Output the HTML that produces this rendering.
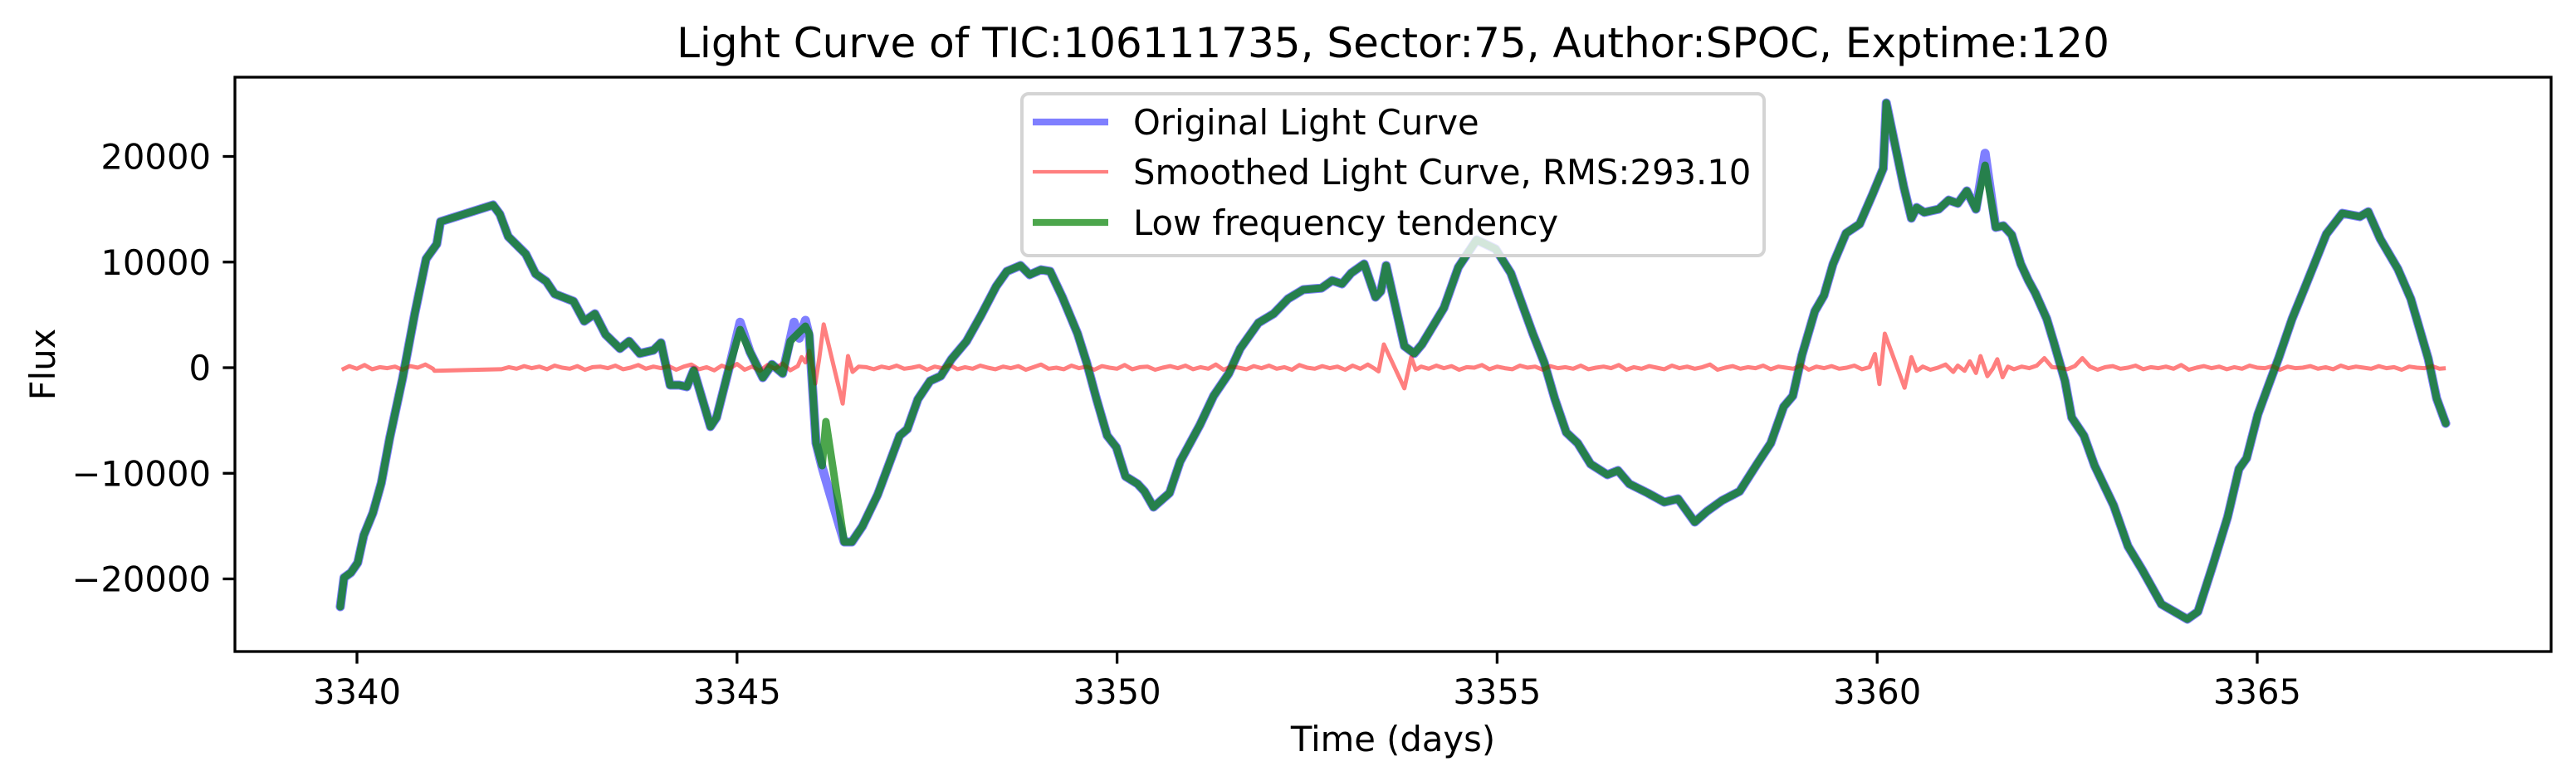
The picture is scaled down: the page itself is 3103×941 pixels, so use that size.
<!DOCTYPE html>
<html><head><meta charset="utf-8">
<style>
html,body{margin:0;padding:0;background:#fff;}
svg{display:block;font-family:"DejaVu Sans","Liberation Sans",sans-serif;}
</style></head>
<body>
<svg id="chart" width="3103" height="941" viewBox="0 0 3103 941" xmlns="http://www.w3.org/2000/svg">
<rect width="3103" height="941" fill="#fff"/>
<text x="1678" y="69" font-size="50" text-anchor="middle">Light Curve of TIC:106111735, Sector:75, Author:SPOC, Exptime:120</text>
<g id="plot"></g>
<g id="axes"></g>
<text x="1678" y="905" font-size="41.7" text-anchor="middle">Time (days)</text>
<text transform="translate(66,439) rotate(-90)" font-size="41.7" text-anchor="middle">Flux</text>
<g id="legend">
<rect x="1231" y="113" width="894" height="195" rx="8" fill="#fff" fill-opacity="0.8" stroke="#d4d4d4" stroke-width="4"/>
<line x1="1244" y1="147" x2="1335" y2="147" stroke="rgba(0,0,255,0.5)" stroke-width="8.3"/>
<text x="1365" y="162" font-size="41.7">Original Light Curve</text>
<line x1="1244" y1="207" x2="1335" y2="207" stroke="rgba(255,0,0,0.5)" stroke-width="4.2"/>
<text x="1365" y="222" font-size="41.7">Smoothed Light Curve, RMS:293.10</text>
<line x1="1244" y1="268" x2="1335" y2="268" stroke="rgba(0,128,0,0.7)" stroke-width="8.3"/>
<text x="1365" y="283" font-size="41.7">Low frequency tendency</text>
</g>
</svg>
<script>
const xTicks = [3340, 3345, 3350, 3355, 3360, 3365];
const yTicks = [-20000, -10000, 0, 10000, 20000];
const yTickLabels = ["\u221220000", "\u221210000", "0", "10000", "20000"];

const greenT = [3339.78,3339.83,3339.92,3340.01,3340.09,3340.21,3340.32,3340.43,3340.60,3340.76,3340.91,3341.05,3341.10,3341.79,3341.88,3341.99,3342.22,3342.35,3342.49,3342.60,3342.85,3342.99,3343.13,3343.27,3343.46,3343.58,3343.72,3343.90,3344.00,3344.12,3344.24,3344.34,3344.43,3344.53,3344.65,3344.73,3344.90,3345.04,3345.17,3345.34,3345.46,3345.60,3345.70,3345.90,3345.95,3346.04,3346.12,3346.17,3346.41,3346.51,3346.65,3346.85,3347.14,3347.24,3347.38,3347.54,3347.68,3347.82,3348.02,3348.21,3348.41,3348.55,3348.73,3348.85,3349.00,3349.12,3349.28,3349.48,3349.60,3349.73,3349.87,3349.99,3350.11,3350.27,3350.36,3350.48,3350.59,3350.69,3350.83,3351.09,3351.27,3351.47,3351.62,3351.86,3352.06,3352.25,3352.45,3352.69,3352.83,3352.96,3353.08,3353.25,3353.40,3353.47,3353.54,3353.78,3353.91,3354.01,3354.30,3354.49,3354.73,3354.98,3355.18,3355.47,3355.62,3355.76,3355.91,3356.06,3356.23,3356.45,3356.59,3356.74,3356.98,3357.20,3357.38,3357.60,3357.76,3357.96,3358.19,3358.42,3358.60,3358.77,3358.89,3359.01,3359.18,3359.30,3359.42,3359.59,3359.77,3359.94,3360.08,3360.12,3360.35,3360.45,3360.52,3360.62,3360.81,3360.94,3361.06,3361.18,3361.30,3361.42,3361.56,3361.66,3361.77,3361.89,3361.99,3362.08,3362.23,3362.32,3362.47,3362.56,3362.72,3362.86,3363.11,3363.30,3363.49,3363.74,3364.08,3364.22,3364.42,3364.61,3364.76,3364.86,3365.01,3365.15,3365.28,3365.46,3365.62,3365.91,3366.12,3366.35,3366.46,3366.62,3366.85,3367.02,3367.25,3367.36,3367.48];
const greenV = [-22630,-19880,-19400,-18470,-15870,-13750,-10920,-6680,-1020,5110,10300,11700,13830,15400,14540,12420,10770,8880,8170,6990,6290,4400,5110,3140,1810,2510,1340,1650,2360,-1650,-1650,-1810,-240,-2670,-5580,-4720,80,3610,1490,-940,310,-550,2510,3930,3220,-7150,-9270,-5110,-16500,-16500,-15010,-12020,-6440,-5820,-2990,-1260,-790,790,2510,4950,7700,9120,9670,8800,9270,9120,6680,3220,470,-2990,-6440,-7540,-10290,-11000,-11710,-13200,-12500,-11870,-8880,-5420,-2670,-550,1810,4240,5110,6520,7390,7540,8250,7940,8960,9820,6680,7230,9670,2040,1340,2200,5660,9510,12100,11240,8960,3220,470,-2990,-6130,-7150,-9120,-10140,-9740,-11000,-11870,-12730,-12420,-14620,-13600,-12570,-11710,-9120,-7150,-3690,-2670,1180,5340,6840,9820,12730,13600,16420,18860,25070,17130,14150,15170,14700,15010,15870,15560,16740,15010,19170,13280,13440,12570,9820,8250,7070,4640,2510,-1260,-4720,-6440,-9270,-13040,-16900,-19170,-22400,-23810,-23100,-18620,-14150,-9590,-8570,-4400,-1650,860,4640,7470,12650,14620,14300,14770,12180,9350,6520,860,-2910,-5270];

const blueT = [3339.78,3339.83,3339.92,3340.01,3340.09,3340.21,3340.32,3340.43,3340.60,3340.76,3340.91,3341.05,3341.10,3341.79,3341.88,3341.99,3342.22,3342.35,3342.49,3342.60,3342.85,3342.99,3343.13,3343.27,3343.46,3343.58,3343.72,3343.90,3344.00,3344.12,3344.24,3344.34,3344.43,3344.53,3344.65,3344.73,3344.90,3345.04,3345.17,3345.34,3345.46,3345.60,3345.75,3345.82,3345.90,3345.95,3346.04,3346.12,3346.41,3346.51,3346.65,3346.85,3347.14,3347.24,3347.38,3347.54,3347.68,3347.82,3348.02,3348.21,3348.41,3348.55,3348.73,3348.85,3349.00,3349.12,3349.28,3349.48,3349.60,3349.73,3349.87,3349.99,3350.11,3350.27,3350.36,3350.48,3350.59,3350.69,3350.83,3351.09,3351.27,3351.47,3351.62,3351.86,3352.06,3352.25,3352.45,3352.69,3352.83,3352.96,3353.08,3353.25,3353.40,3353.47,3353.54,3353.78,3353.91,3354.01,3354.30,3354.49,3354.73,3354.98,3355.18,3355.47,3355.62,3355.76,3355.91,3356.06,3356.23,3356.45,3356.59,3356.74,3356.98,3357.20,3357.38,3357.60,3357.76,3357.96,3358.19,3358.42,3358.60,3358.77,3358.89,3359.01,3359.18,3359.30,3359.42,3359.59,3359.77,3359.94,3360.08,3360.12,3360.35,3360.45,3360.52,3360.62,3360.81,3360.94,3361.06,3361.18,3361.30,3361.42,3361.56,3361.66,3361.77,3361.89,3361.99,3362.08,3362.23,3362.32,3362.47,3362.56,3362.72,3362.86,3363.11,3363.30,3363.49,3363.74,3364.08,3364.22,3364.42,3364.61,3364.76,3364.86,3365.01,3365.15,3365.28,3365.46,3365.62,3365.91,3366.12,3366.35,3366.46,3366.62,3366.85,3367.02,3367.25,3367.36,3367.48];
const blueV = [-22630,-19880,-19400,-18470,-15870,-13750,-10920,-6680,-1020,5110,10300,11700,13830,15400,14540,12420,10770,8880,8170,6990,6290,4400,5110,3140,1810,2510,1340,1650,2360,-1650,-1650,-1810,-240,-2670,-5580,-4720,80,4300,1490,-940,310,-550,4300,2800,4480,3000,-7150,-9430,-16500,-16500,-15010,-12020,-6440,-5820,-2990,-1260,-790,790,2510,4950,7700,9120,9670,8800,9270,9120,6680,3220,470,-2990,-6440,-7540,-10290,-11000,-11710,-13200,-12500,-11870,-8880,-5420,-2670,-550,1810,4240,5110,6520,7390,7540,8250,7940,8960,9820,6680,7230,9670,2040,1340,2200,5660,9510,12100,11240,8960,3220,470,-2990,-6130,-7150,-9120,-10140,-9740,-11000,-11870,-12730,-12420,-14620,-13600,-12570,-11710,-9120,-7150,-3690,-2670,1180,5340,6840,9820,12730,13600,16420,18860,25070,17130,14150,15170,14700,15010,15870,15560,16740,15010,20300,13280,13440,12570,9820,8250,7070,4640,2510,-1260,-4720,-6440,-9270,-13040,-16900,-19170,-22400,-23810,-23100,-18620,-14150,-9590,-8570,-4400,-1650,860,4640,7470,12650,14620,14300,14770,12180,9350,6520,860,-2910,-5270];

const redT = [3339.8,3339.9,3340.0,3340.1,3340.2,3340.3,3340.4,3340.5,3340.6,3340.7,3340.8,3340.9,3341.0,3341.02,3341.88,
3341.9,3342.0,3342.1,3342.2,3342.3,3342.4,3342.5,3342.6,3342.7,3342.8,3342.9,3343.0,3343.1,3343.2,3343.3,3343.4,3343.5,3343.6,3343.7,3343.8,3343.9,3344.0,3344.1,3344.2,3344.3,3344.4,3344.5,3344.6,3344.7,3344.8,3344.9,3345.0,3345.1,3345.2,3345.3,3345.4,3345.5,3345.6,3345.7,3345.8,
3345.85,3345.9,3345.95,3346.0,3346.03,3346.08,3346.14,3346.39,3346.46,3346.52,3346.6,
3346.7,3346.8,3346.9,3347.0,3347.1,3347.2,3347.3,3347.4,3347.5,3347.6,3347.7,3347.8,3347.9,3348.0,3348.1,3348.2,3348.3,3348.4,3348.5,3348.6,3348.7,3348.8,3348.9,3349.0,3349.1,3349.2,3349.3,3349.4,3349.5,3349.6,3349.7,3349.8,3349.9,3350.0,3350.1,3350.2,3350.3,3350.4,3350.5,3350.6,3350.7,3350.8,3350.9,3351.0,3351.1,3351.2,3351.3,3351.4,3351.5,3351.6,3351.7,3351.8,3351.9,3352.0,3352.1,3352.2,3352.3,3352.4,3352.5,3352.6,3352.7,3352.8,3352.9,3353.0,3353.1,3353.2,3353.3,3353.4,
3353.44,3353.51,3353.78,3353.87,3353.93,
3354.0,3354.1,3354.2,3354.3,3354.4,3354.5,3354.6,3354.7,3354.8,3354.9,3355.0,3355.1,3355.2,3355.3,3355.4,3355.5,3355.6,3355.7,3355.8,3355.9,3356.0,3356.1,3356.2,3356.3,3356.4,3356.5,3356.6,3356.7,3356.8,3356.9,3357.0,3357.1,3357.2,3357.3,3357.4,3357.5,3357.6,3357.7,3357.8,3357.9,3358.0,3358.1,3358.2,3358.3,3358.4,3358.5,3358.6,3358.7,3358.8,3358.9,3359.0,3359.1,3359.2,3359.3,3359.4,3359.5,3359.6,3359.7,3359.8,3359.9,
3359.97,3360.03,3360.10,3360.36,3360.45,3360.52,3360.6,3360.7,3360.8,3360.9,3361.0,3361.06,3361.15,3361.22,3361.3,3361.36,3361.45,3361.52,3361.58,3361.65,3361.72,
3361.8,3361.9,3362.0,3362.1,3362.2,3362.3,3362.4,3362.5,3362.6,3362.7,3362.8,3362.9,3363.0,3363.1,3363.2,3363.3,3363.4,3363.5,3363.6,3363.7,3363.8,3363.9,3364.0,3364.1,3364.2,3364.3,3364.4,3364.5,3364.6,3364.7,3364.8,3364.9,3365.0,3365.1,3365.2,3365.3,3365.4,3365.5,3365.6,3365.7,3365.8,3365.9,3366.0,3366.1,3366.2,3366.3,3366.4,3366.5,3366.6,3366.7,3366.8,3366.9,3367.0,3367.1,3367.2,3367.3,3367.4,3367.48];
const redV = [-200,150,-100,250,-150,50,-50,100,-200,150,0,300,-100,-300,-150,
-150,50,-100,150,-50,100,-150,200,0,-100,150,-200,50,100,-50,200,-150,0,250,-100,100,-50,150,-200,100,300,-150,50,-250,200,-100,350,-200,100,-300,250,-100,400,-250,150,
1000,500,1600,-200,-1500,800,4100,-3400,1100,-400,100,
50,-150,100,-50,200,-100,0,150,-200,100,-50,250,-150,50,-100,200,0,-150,100,-50,150,-200,50,300,-100,0,-150,200,-50,100,-200,150,0,-100,250,-150,50,100,-200,0,150,-50,200,-150,50,-100,300,-200,100,0,-150,150,-50,200,-100,50,-200,250,0,-100,150,-50,100,-200,200,-100,300,-150,
-350,2200,-1960,1000,-200,
100,-100,200,-50,150,-200,50,0,250,-150,100,-50,-150,200,0,100,-200,150,-50,50,-100,200,-150,0,100,-50,250,-200,50,-100,150,0,-150,200,-50,100,-100,50,300,-200,0,150,-100,50,-50,200,-150,100,0,-100,250,-200,100,-50,150,-100,0,200,-150,50,
1300,-1550,3220,-1900,1000,-300,100,-200,0,300,-400,200,-300,600,-500,1100,-800,-100,800,-900,100,
-150,100,-50,200,900,50,0,-150,150,900,100,-200,50,150,-100,0,200,-150,50,-50,100,-100,250,-200,0,150,-50,100,-150,50,-100,200,0,-50,150,-200,100,-50,0,150,-100,50,-150,200,-50,100,0,-100,150,-50,50,-200,100,0,-50,150,-100,-50];

const AX = {left:283, right:3073, top:93, bottom:785};
const T0 = 3340, T1 = 3365, PX0 = 430, PX1 = 2719;
const V0 = 0, PY0 = 443, PYPER = 254.5/20000;
function xs(t){ return PX0 + (t - T0) * (PX1 - PX0) / (T1 - T0); }
function ys(v){ return PY0 - (v - V0) * PYPER; }
const NS = "http://www.w3.org/2000/svg";
function mk(tag, attrs){ const e = document.createElementNS(NS, tag); for (const k in attrs) e.setAttribute(k, attrs[k]); return e; }
function pathD(T, V){ let d=""; for (let i=0;i<T.length;i++){ d += (i?"L":"M") + xs(T[i]).toFixed(1) + "," + ys(V[i]).toFixed(1); } return d; }

const plot = document.getElementById("plot");
const clip = mk("clipPath", {id:"clipax"});
clip.appendChild(mk("rect", {x:AX.left, y:AX.top, width:AX.right-AX.left, height:AX.bottom-AX.top}));
plot.appendChild(clip);

const blue = mk("path", {d:pathD(blueT, blueV), fill:"none", stroke:"rgba(0,0,255,0.5)", "stroke-width":11, "stroke-linejoin":"round", "stroke-linecap":"round", "clip-path":"url(#clipax)"});


plot.appendChild(blue);

const red = mk("path", {d:pathD(redT, redV), fill:"none", stroke:"rgba(255,0,0,0.5)", "stroke-width":5, "stroke-linejoin":"round", "clip-path":"url(#clipax)"});


plot.appendChild(red);

const green = mk("path", {d:pathD(greenT, greenV), fill:"none", stroke:"rgba(0,128,0,0.7)", "stroke-width":9, "stroke-linejoin":"round", "stroke-linecap":"round", "clip-path":"url(#clipax)"});


plot.appendChild(green);

const axes = document.getElementById("axes");
const frame = mk("rect", {x:AX.left, y:AX.top, width:AX.right-AX.left, height:AX.bottom-AX.top, fill:"none", stroke:"#000", "stroke-width":3.3});


axes.appendChild(frame);

xTicks.forEach(function(t){
  const x = xs(t);
  const tk = mk("line", {x1:x, y1:AX.bottom, x2:x, y2:AX.bottom+14.6, stroke:"#000", "stroke-width":3.3});
  
  
  axes.appendChild(tk);
  const lb = mk("text", {x:x, y:848, "font-size":41.7, "text-anchor":"middle"});
  lb.textContent = String(t);
  
  
  axes.appendChild(lb);
});
yTicks.forEach(function(v, i){
  const y = ys(v);
  const tk = mk("line", {x1:AX.left-14.6, y1:y, x2:AX.left, y2:y, stroke:"#000", "stroke-width":3.3});
  
  
  axes.appendChild(tk);
  const lb = mk("text", {x:AX.left-29, y:y+15, "font-size":41.7, "text-anchor":"end"});
  lb.textContent = yTickLabels[i];
  
  
  axes.appendChild(lb);
});
</script>
</body></html>
